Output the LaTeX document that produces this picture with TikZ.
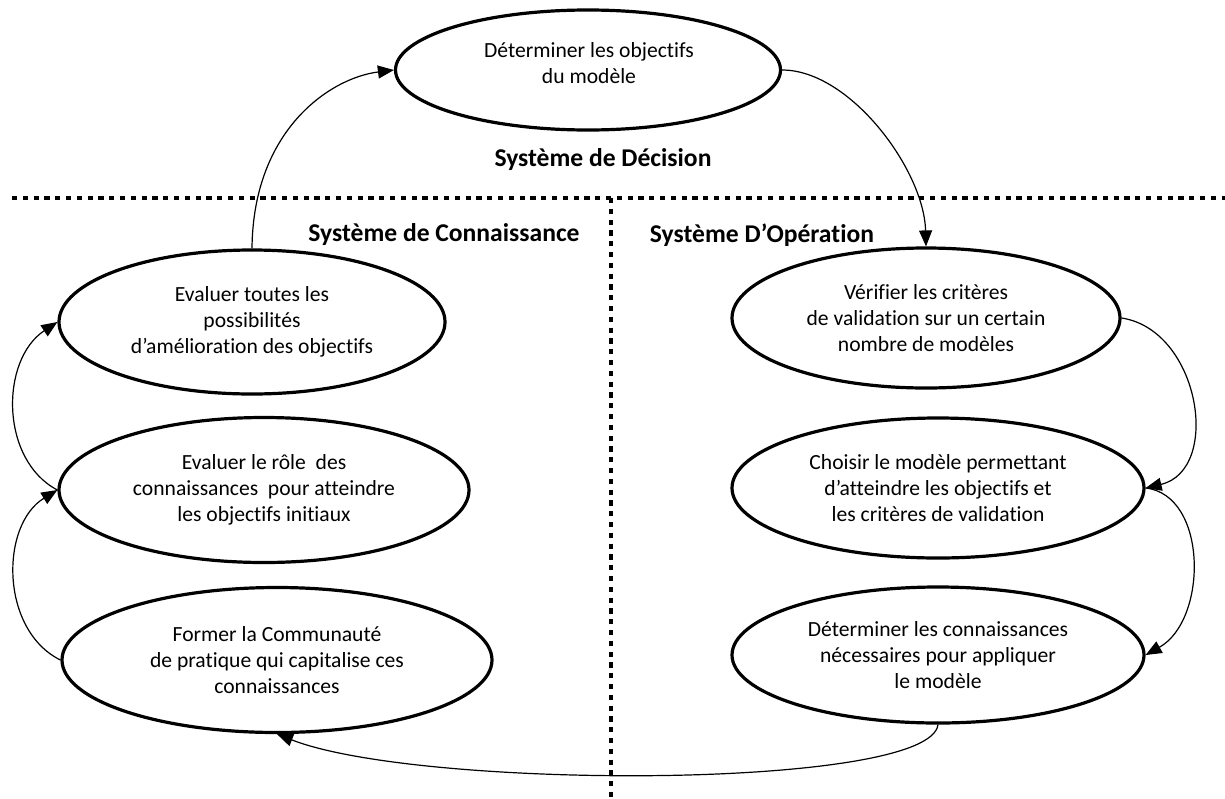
\documentclass[tikz,border=0pt]{standalone}
\usepackage{fontspec}
\setmainfont[Ligatures={NoCommon}]{Carlito}
\usetikzlibrary{arrows.meta,shapes.geometric}
\tikzset{
  ell/.style={ellipse,draw,line width=1.6pt,inner sep=0pt,align=center,
    font=\fontsize{10.8}{13}\selectfont},
  txt/.style={align=center,inner sep=0pt,font=\fontsize{10.8}{13}\selectfont},
  head/.style={inner sep=0pt,font=\fontsize{12.8}{14}\selectfont\bfseries},
  conn/.style={line width=0.6pt,-{Triangle[length=8pt,width=6.5pt]}},
  sep/.style={line width=2.4pt,dash pattern=on 2.6pt off 2.8pt},
}
\begin{document}
\begin{tikzpicture}[x=0.5pt,y=-0.5pt]
\useasboundingbox (0,0) rectangle (1225,798);
% separators
\coordinate (hl) at (12,198);
\coordinate (hr) at (1225,198);
\coordinate (vt) at (611,198);
\coordinate (vb) at (611,798);
\draw[sep] (hl) -- (hr);
\draw[sep] (vt) -- (vb);
% headings
\node[head] (hdec) at (603,160) {Système de Décision};
\node[head] (hcon) at (444,235) {Système de Connaissance};
\node[head] (hop) at (762,235) {Système D’Opération};
% ellipses
\node[ell,minimum width=192.5pt,minimum height=60pt] (top) at (588,70) {};
\node[txt] (toptxt) at (589,63) {Déterminer les objectifs\\du modèle};
\node[ell,minimum width=193pt,minimum height=72pt] (l1) at (252,322)
  {Evaluer toutes les\\possibilités\\d’amélioration des objectifs};
\node[ell,minimum width=205pt,minimum height=72.5pt] (l2) at (264,490)
  {Evaluer le rôle\ \ des\\connaissances\ \ pour atteindre\\les objectifs initiaux};
\node[ell,minimum width=215pt,minimum height=72.5pt] (l3) at (277,660)
  {Former la Communauté\\de pratique qui capitalise ces\\connaissances};
\node[ell,minimum width=194pt,minimum height=70pt] (r1) at (926,318)
  {Vérifier les critères\\de validation sur un certain\\nombre de modèles};
\node[ell,minimum width=206pt,minimum height=70pt] (r2) at (938,488)
  {Choisir le modèle permettant\\d’atteindre les objectifs et\\les critères de validation};
\node[ell,minimum width=206pt,minimum height=68pt] (r3) at (938,655)
  {Déterminer les connaissances\\nécessaires pour appliquer\\le modèle};
% connectors
\draw[conn] (l1.north) .. controls (253,130) and (330,78) .. (top.west);
\draw[conn] (top.east) .. controls (850,70) and (924,170) .. (r1.north);
\draw[conn] (r1.east) .. controls (1200,330) and (1222,470) .. (r2.east);
\draw[conn] (r2.east) .. controls (1208,495) and (1208,620) .. (r3.east);
\draw[conn] (r3.south) .. controls (930,790) and (420,790) .. (l3.south);
\draw[conn] (l3.west) .. controls (0,630) and (0,525) .. (l2.west);
\draw[conn] (l2.west) .. controls (0,460) and (0,360) .. (l1.west);
\end{tikzpicture}
\end{document}
